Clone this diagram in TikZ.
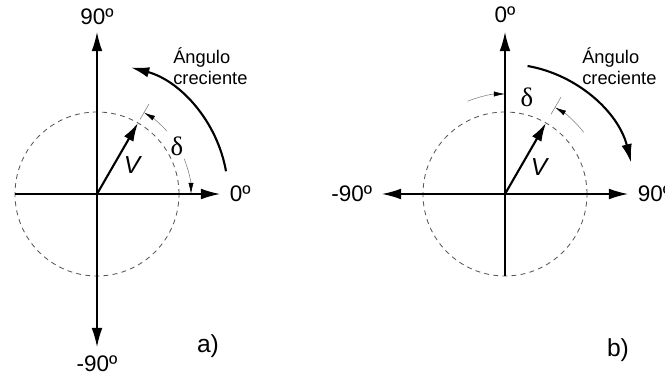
\documentclass[tikz,border=0pt]{standalone}
\usepackage{fontspec}
\setmainfont{Liberation Sans}
\newfontfamily\greekserif{Liberation Serif}
\usetikzlibrary{arrows.meta}
\begin{document}
\begin{tikzpicture}[>={Latex[length=4.8mm, width=2.7mm]},
  axis/.style={line width=0.9pt},
  vec/.style={line width=1.5pt, -{Latex[length=4.6mm, width=2.7mm]}},
  turn/.style={line width=1.5pt, -{Latex[length=4.6mm, width=2.6mm]}},
  dim/.style={gray, line width=0.4pt, -{Latex[length=2.8mm, width=1.3mm, black]}},
  ext/.style={gray, line width=0.4pt},
  ring/.style={gray!70!black, dash pattern=on 3.5pt off 3pt, line width=0.6pt},
  lbl/.style={font=\fontsize{16}{18}\selectfont},
  txt/.style={font=\fontsize{13}{15}\selectfont, align=left, anchor=west, inner sep=0pt},
  tag/.style={font=\fontsize{17.5}{19}\selectfont},
  dlt/.style={font=\greekserif\fontsize{19}{21}\selectfont}]
  \useasboundingbox (-2.425,-4.625) rectangle (14.2,4.85);
  % a)
  \coordinate (Oa) at (0,0);
  \draw[ring] (Oa) circle (2.05);
  \draw[axis, <->] (0,-3.825) coordinate (aS) -- (0,4.05) coordinate (aN);
  \draw[axis, ->] (-2.05,0) coordinate (aW) -- (3.075,0) coordinate (aE);
  \node[lbl] (a90) at (0,4.44) {90º};
  \node[lbl] (am90) at (0,-4.25) {-90º};
  \node[lbl, anchor=west] (a0) at (3.2,0) {0º};
  \draw[vec] (Oa) -- (60:2.05) coordinate (aV);
  \node[tag] (aVl) at (0.9,0.72) {\textit{V}};
  \draw[ext] (Oa) ++(60:2.15) -- ++(60:0.45);
  \draw[dim] (Oa) ++(42:2.35) arc[start angle=42, end angle=60, radius=2.35];
  \draw[dim] (Oa) ++(22:2.35) arc[start angle=22, end angle=0, radius=2.35];
  \node[dlt] (ad) at (2.0,1.2) {δ};
  \draw[turn] (Oa) ++(10:3.275) arc[start angle=10, end angle=75, radius=3.275];
  \node[txt] (ang) at (1.9,3.2) {Ángulo\\creciente};
  \node[tag] (ta) at (2.775,-3.8) {a)};
  % b)
  \coordinate (Ob) at (10.2,0);
  \draw[ring] (Ob) circle (2.05);
  \draw[axis, ->] (10.2,-2.05) coordinate (bS) -- (10.2,4.05) coordinate (bN);
  \draw[axis, <->] (7.125,0) coordinate (bW) -- (13.275,0) coordinate (bE);
  \node[lbl] (b0) at (10.2,4.47) {0º};
  \node[lbl, anchor=east] (bm90) at (7.0,0) {-90º};
  \node[lbl, anchor=west] (b90) at (13.4,0) {90º};
  \draw[vec] (Ob) -- ++(60:2.05) coordinate (bV);
  \node[tag] (bVl) at (11.075,0.68) {\textit{V}};
  \draw[ext] (Ob) ++(60:2.3) -- ++(60:0.5);
  \draw[dim] (Ob) ++(38:2.5) arc[start angle=38, end angle=60, radius=2.5];
  \draw[dim] (Ob) ++(112:2.5) arc[start angle=112, end angle=90, radius=2.5];
  \node[dlt] (bd) at (10.75,2.42) {δ};
  \draw[turn] (Ob) ++(80:3.25) arc[start angle=80, end angle=14, radius=3.25];
  \node[txt] (bng) at (12.125,3.2) {Ángulo\\creciente};
  \node[tag] (tb) at (13.025,-3.9) {b)};
\end{tikzpicture}
\end{document}
